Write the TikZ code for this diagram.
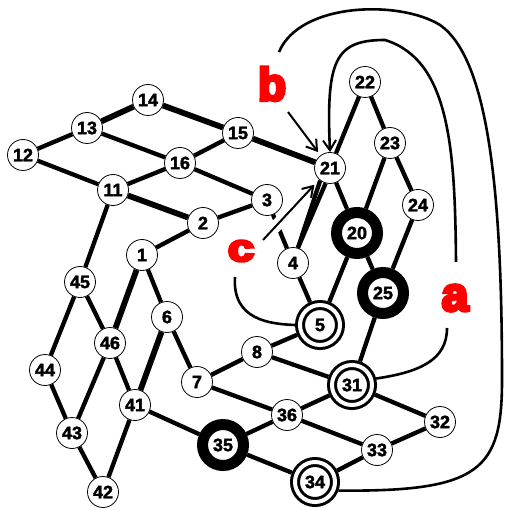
\documentclass[tikz,border=0pt]{standalone}
\usepackage{fontspec}
\setmainfont{Liberation Sans}
\newfontfamily\heavy{Liberation Sans Bold}[FakeBold=7]
\newfontfamily\numfont{Liberation Sans Bold}[FakeBold=2]
\usetikzlibrary{arrows.meta}
\definecolor{lblred}{RGB}{255,0,0}
\begin{document}
\begin{tikzpicture}[x=1pt,y=-1pt,
  nd/.style={circle, draw, line width=0.8pt, fill=white, minimum size=31pt, inner sep=0pt,
    font=\numfont\fontsize{18}{18}\selectfont},
  blk/.style={nd, line width=11pt, minimum size=41pt, outer sep=5.5pt},
  dbl/.style={nd, line width=3pt, double=white, double distance=4pt, minimum size=40pt, outer sep=5pt},
  edge/.style={line width=4.3pt},
  tedge/.style={line width=5.8pt},
  crv/.style={line width=2.6pt},
  arr/.style={line width=2pt, -{Straight Barb[length=10pt,width=13pt,line width=2pt]}},
  lbl/.style={text=lblred, inner sep=0pt, font=\heavy\fontsize{46}{46}\selectfont}
]
\useasboundingbox (0,0) rectangle (507,510);
% nodes
\node[nd] (n12) at (23,155) {12};
\node[nd] (n13) at (87,128) {13};
\node[nd] (n14) at (148,100) {14};
\node[nd] (n15) at (238,133) {15};
\node[nd] (n16) at (180,163) {16};
\node[nd] (n11) at (113,190) {11};
\node[nd] (n3) at (267,200) {3};
\node[nd] (n2) at (203,223) {2};
\node[nd] (n1) at (142,255) {1};
\node[nd] (n21) at (330,168) {21};
\node[nd] (n22) at (365,82) {22};
\node[nd] (n23) at (390,143) {23};
\node[nd] (n24) at (418,205) {24};
\node[blk] (n20) at (357,233) {20};
\node[blk] (n25) at (383,293) {25};
\node[nd] (n4) at (293,263) {4};
\node[dbl] (n5) at (320,325) {5};
\node[nd] (n8) at (257,352) {8};
\node[nd] (n7) at (197,382) {7};
\node[nd] (n6) at (167,317) {6};
\node[nd] (n45) at (80,282) {45};
\node[nd] (n46) at (110,343) {46};
\node[nd] (n44) at (45,370) {44};
\node[nd] (n41) at (135,405) {41};
\node[nd] (n43) at (72,433) {43};
\node[nd] (n42) at (103,492) {42};
\node[dbl] (n31) at (352,385) {31};
\node[nd] (n36) at (287,415) {36};
\node[nd] (n32) at (440,422) {32};
\node[nd] (n33) at (377,450) {33};
\node[blk] (n35) at (223,445) {35};
\node[dbl] (n34) at (315,482) {34};
% labels
\node[lbl, font=\heavy\fontsize{48}{48}\selectfont] (la) at (455,298) {a};
\node[lbl] (lb) at (272,84) {b};
\node[lbl, font=\heavy\fontsize{38}{38}\selectfont, xscale=1.25] (lc) at (241,251) {c};
% edge 3-4 cut by arrow c
\draw[edge] (n3) -- (n4);
\coordinate (cs) at (263,240);
\draw[arr, shorten >=7pt, preaction={draw=white, line width=12pt, -}] (cs) -- (n21);
% edges
\draw[edge] (n12) -- (n13);
\draw[tedge] (n13) -- (n14);
\draw[tedge] (n14) -- (n15);
\draw[edge] (n12) -- (n11);
\draw[edge] (n13) -- (n16);
\draw[edge] (n15) -- (n16);
\draw[edge] (n16) -- (n11);
\draw[edge] (n16) -- (n3);
\draw[tedge] (n11) -- (n2);
\draw[edge] (n2) -- (n3);
\draw[edge] (n2) -- (n1);
\draw[tedge] (n15) -- (n21);
\draw[edge] (n21) -- (n22);
\draw[edge] (n22) -- (n23);
\draw[edge] (n21) -- (n20);
\draw[edge] (n23) -- (n20);
\draw[edge] (n23) -- (n24);
\draw[edge] (n24) -- (n25);
\draw[edge] (n20) -- (n25);
\draw[edge] (n20) -- (n5);
\draw[edge] (n21.232) -- (n4.72);
\draw[edge] (n21.254) -- (n4.72);
\draw[edge] (n4) -- (n5);
\draw[edge] (n5) -- (n8);
\draw[edge] (n8) -- (n7);
\draw[edge] (n8) -- (n31);
\draw[edge] (n7) -- (n36);
\draw[edge] (n25) -- (n31);
\draw[edge] (n31) -- (n36);
\draw[edge] (n31) -- (n32);
\draw[edge] (n36) -- (n35);
\draw[edge] (n36) -- (n33);
\draw[edge] (n32) -- (n33);
\draw[edge] (n33) -- (n34);
\draw[edge] (n35) -- (n34);
\draw[edge] (n41) -- (n35);
\draw[edge] (n7) -- (n6);
\draw[tedge] (n6) -- (n41);
\draw[edge] (n1) -- (n6);
\draw[tedge] (n1) -- (n46);
\draw[edge] (n11) -- (n45);
\draw[edge] (n45) -- (n46);
\draw[edge] (n45) -- (n44);
\draw[edge] (n44) -- (n43);
\draw[edge] (n46) -- (n43);
\draw[edge] (n46) -- (n41);
\draw[edge] (n41) -- (n42);
\draw[edge] (n43) -- (n42);
% arrow b
\coordinate (bs) at (288,112);
\draw[arr, shorten >=4pt] (bs) -- (n21);
% long curves
\coordinate (ia) at (456,262);
\draw[crv, -{Straight Barb[length=10pt,width=13pt,line width=2pt]}] (ia) .. controls (455,150) and (450,60) .. (385,40) .. controls (335,40) and (326,60) .. (n21.north);
\coordinate (ob) at (279,52);
\draw[crv] (n34.-20) .. controls (480,492) and (502,470) .. (502,380) .. controls (502,200) and (490,60) .. (440,25) .. controls (400,0) and (300,2) .. (ob);
\coordinate (ae) at (447,328);
\draw[crv] (n31.15) .. controls (420,372) and (447,360) .. (ae);
\coordinate (cc) at (235,277);
\draw[crv] (cc) .. controls (232,320) and (270,324) .. (n5.west);
\end{tikzpicture}
\end{document}
